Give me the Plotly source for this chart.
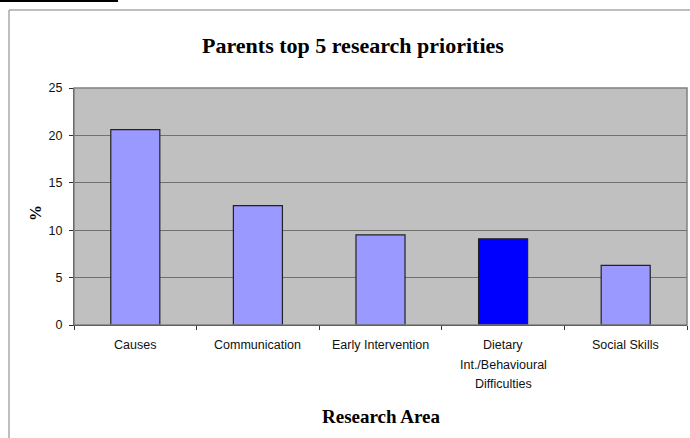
import plotly.graph_objects as go

categories = ["Causes", "Communication", "Early Intervention",
              "Dietary<br>Int./Behavioural<br>Difficulties", "Social Skills"]
values = [20.6, 12.6, 9.5, 9.1, 6.3]
bar_colors = ["#9999FF", "#9999FF", "#9999FF", "#0000FF", "#9999FF"]
y_ticks = [0, 5, 10, 15, 20, 25]

title_text = "Parents top 5 research priorities"
x_title = "Research Area"
y_title = "%"

fig = go.Figure()
fig.add_trace(go.Bar(
    x=categories, y=values,
    marker=dict(color=bar_colors, line=dict(color="#222222", width=1.2)),
    width=0.4,
))

# category labels as annotations (to match line spacing)
annotations = []
for cat in categories:
    for i, line in enumerate(cat.split("<br>")):
        annotations.append(dict(
            x=cat, xref="x", y=0, yref="paper", yanchor="top",
            text=line, showarrow=False, yshift=-11 - 19.5 * i,
            font=dict(family="Liberation Sans, Arial", size=12.5, color="#111111"),
        ))

annotations.append(dict(
    x=0.5, xref="paper", y=1.0, yref="paper", yanchor="middle",
    text=f"<b>{title_text}</b>", showarrow=False, xshift=353 - 380.5, yshift=325 - 45 - 237,
    font=dict(family="Liberation Serif, Times New Roman", size=22, color="black"),
))
annotations.append(dict(
    x=0.5, xref="paper", y=0, yref="paper", yanchor="middle",
    text=f"<b>{x_title}</b>", showarrow=False, xshift=381 - 380.5, yshift=-(416 - 325),
    font=dict(family="Liberation Serif, Times New Roman", size=19, color="black"),
))
annotations.append(dict(
    x=0, xref="paper", y=0.5, yref="paper", xanchor="center",
    text=f"<b>{y_title}</b>", showarrow=False, textangle=-90,
    xshift=35 - 74, yshift=206.5 - 213,
    font=dict(family="Liberation Serif, Times New Roman", size=16, color="black"),
))

shapes = [
    # plot area border
    dict(type="rect", xref="paper", yref="paper", x0=0, y0=0, x1=1, y1=1,
         line=dict(color="#808080", width=1.5), layer="above"),
    # outer chart frame (left & top)
    dict(type="line", xref="paper", yref="paper",
         x0=(9 - 74) / 613, x1=(9 - 74) / 613, y0=(325 - 10) / 237, y1=(325 - 440) / 237,
         line=dict(color="#A8A8A8", width=1.5)),
    dict(type="line", xref="paper", yref="paper",
         x0=(9 - 74) / 613, x1=(692 - 74) / 613, y0=(325 - 10) / 237, y1=(325 - 10) / 237,
         line=dict(color="#A8A8A8", width=1.5)),
    # heading underline fragment
    dict(type="line", xref="paper", yref="paper",
         x0=(0 - 74) / 613, x1=(118 - 74) / 613, y0=(325 - 1) / 237, y1=(325 - 1) / 237,
         line=dict(color="black", width=2)),
]

fig.update_layout(
    width=690, height=438,
    margin=dict(l=74, r=3, t=88, b=113),
    paper_bgcolor="white", plot_bgcolor="#C0C0C0",
    showlegend=False,
    bargap=0.6,
    annotations=annotations,
    shapes=shapes,
    font=dict(family="Liberation Sans, Arial", size=12, color="#111111"),
)
fig.update_xaxes(
    showticklabels=False, tickson="boundaries", ticks="outside", ticklen=4,
    tickcolor="#333333", showline=True, linecolor="black", linewidth=1.2,
    showgrid=False, zeroline=False,
)
fig.update_yaxes(
    range=[0, 25], tickvals=y_ticks, ticks="outside", ticklen=4,
    tickcolor="#333333", showline=True, linecolor="#333333", linewidth=1,
    showgrid=True, gridcolor="#707070", gridwidth=1, zeroline=False,
    ticklabelstandoff=4,
    tickfont=dict(family="Liberation Sans, Arial", size=12.5, color="#111111"),
)

fig.write_html("out.html")
